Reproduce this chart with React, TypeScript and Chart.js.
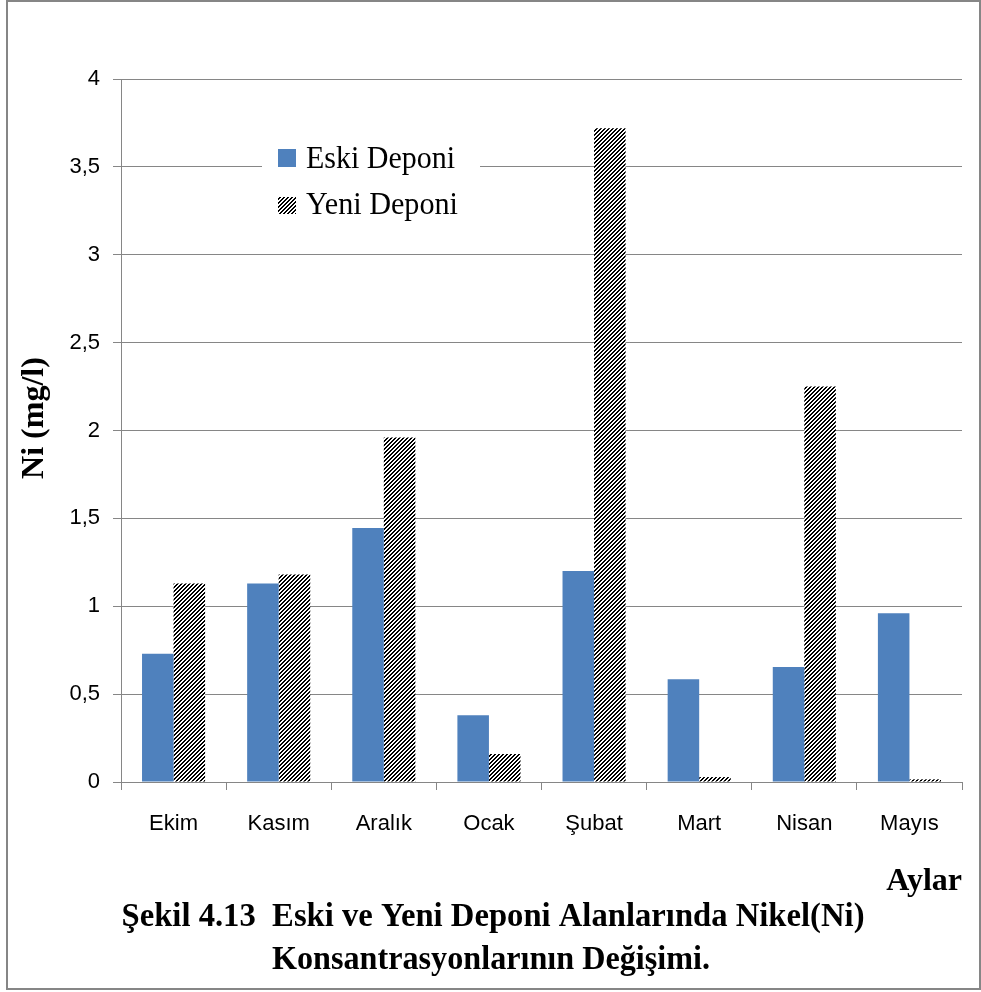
import React, { useEffect, useRef } from "react";
import { Chart, registerables } from "chart.js";

Chart.register(...registerables);

const months = ["Ekim", "Kasım", "Aralık", "Ocak", "Şubat", "Mart", "Nisan", "Mayıs"];
const eskiDeponi = [0.73, 1.13, 1.445, 0.38, 1.2, 0.585, 0.655, 0.96];
const yeniDeponi = [1.13, 1.18, 1.96, 0.16, 3.72, 0.028, 2.25, 0.015];
const seriesNames = ["Eski Deponi", "Yeni Deponi"];
const yTitle = "Ni (mg/l)";
const xTitle = "Aylar";
const captionLines = [
  "Şekil 4.13  Eski ve Yeni Deponi Alanlarında Nikel(Ni)",
  "Konsantrasyonlarının Değişimi.",
];

const BLUE = "#4F81BD";
const GREY = "#868686";

function makeHatch(): CanvasPattern | string {
  const c = document.createElement("canvas");
  c.width = 4;
  c.height = 4;
  const ctx = c.getContext("2d");
  if (!ctx) return "#555";
  const img = ctx.createImageData(4, 4);
  for (let y = 0; y < 4; y++) {
    for (let x = 0; x < 4; x++) {
      const black = (x + y) % 4 < 2;
      const i = (y * 4 + x) * 4;
      const v = black ? 0 : 255;
      img.data[i] = v;
      img.data[i + 1] = v;
      img.data[i + 2] = v;
      img.data[i + 3] = 255;
    }
  }
  ctx.putImageData(img, 0, 0);
  const p = ctx.createPattern(c, "repeat");
  return p || "#555";
}

export default function App() {
  const ref = useRef<HTMLCanvasElement>(null);

  useEffect(() => {
    const canvas = ref.current;
    if (!canvas) return;
    const hatch = makeHatch();

    const annotations = {
      id: "annotations",
      afterDraw(chart: any) {
        const ctx = chart.ctx as CanvasRenderingContext2D;
        ctx.save();
        // frame
        ctx.strokeStyle = GREY;
        ctx.lineWidth = 2;
        ctx.strokeRect(7, 1, 973, 988);

        // legend box
        ctx.fillStyle = "#fff";
        ctx.fillRect(262, 135, 218, 97);
        ctx.fillStyle = BLUE;
        ctx.fillRect(278, 149, 18, 18);
        ctx.fillStyle = hatch as any;
        ctx.fillRect(278, 197, 18, 17);
        ctx.fillStyle = "#000";
        ctx.font = "32px 'Liberation Serif', 'Times New Roman', serif";
        ctx.textBaseline = "alphabetic";
        ctx.textAlign = "left";
        ctx.fillText(seriesNames[0], 306, 168, 149);
        ctx.fillText(seriesNames[1], 306, 214, 152);

        // y title
        ctx.save();
        ctx.translate(35, 418);
        ctx.rotate(-Math.PI / 2);
        ctx.font = "bold 32px 'Liberation Serif', 'Times New Roman', serif";
        ctx.textAlign = "center";
        ctx.textBaseline = "middle";
        ctx.fillText(yTitle, 0, 0, 127);
        ctx.restore();

        // x title
        ctx.font = "bold 32px 'Liberation Serif', 'Times New Roman', serif";
        ctx.textAlign = "right";
        ctx.textBaseline = "alphabetic";
        ctx.fillText(xTitle, 962, 890, 76);

        // caption
        ctx.textAlign = "center";
        ctx.font = "bold 34px 'Liberation Serif', 'Times New Roman', serif";
        ctx.fillText(captionLines[0], 493, 926, 743);
        ctx.fillText(captionLines[1], 491, 969, 438);
        ctx.restore();
      },
    };

    const chart = new Chart(canvas, {
      type: "bar",
      data: {
        labels: months,
        datasets: [
          {
            label: seriesNames[0],
            data: eskiDeponi,
            backgroundColor: BLUE,
            borderWidth: 0,
            categoryPercentage: 0.6,
            barPercentage: 1,
          },
          {
            label: seriesNames[1],
            data: yeniDeponi,
            backgroundColor: hatch as any,
            borderWidth: 0,
            categoryPercentage: 0.6,
            barPercentage: 1,
          },
        ],
      },
      options: {
        responsive: false,
        animation: false,
        devicePixelRatio: 1,
        layout: { padding: { left: 0, top: 79, right: 19, bottom: 150 } },
        plugins: {
          legend: { display: false },
          tooltip: { enabled: false },
          title: { display: false },
        },
        scales: {
          x: {
            grid: {
              offset: true,
              drawOnChartArea: false,
              tickLength: 8,
              color: GREY,
            },
            border: { color: GREY, width: 1 },
            ticks: {
              color: "#000",
              font: { family: "'Liberation Sans', Arial, sans-serif", size: 22 },
              padding: 21,
              maxRotation: 0,
              autoSkip: false,
            },
            afterFit(scale: any) {
              scale.height = 60;
            },
          },
          y: {
            min: 0,
            max: 4,
            grid: { color: GREY, tickLength: 8 },
            border: { color: GREY, width: 1 },
            ticks: {
              stepSize: 0.5,
              color: "#000",
              font: { family: "'Liberation Sans', Arial, sans-serif", size: 22 },
              padding: 13,
              callback: (v: any) => String(v).replace(".", ","),
            },
            afterFit(scale: any) {
              scale.width = 121;
            },
          },
        },
      },
      plugins: [annotations],
    });

    return () => chart.destroy();
  }, []);

  return (
    <div style={{ position: "absolute", left: 0, top: 0, width: 981, height: 992, background: "#fff" }}>
      <canvas ref={ref} width={981} height={992} style={{ display: "block" }} />
    </div>
  );
}
